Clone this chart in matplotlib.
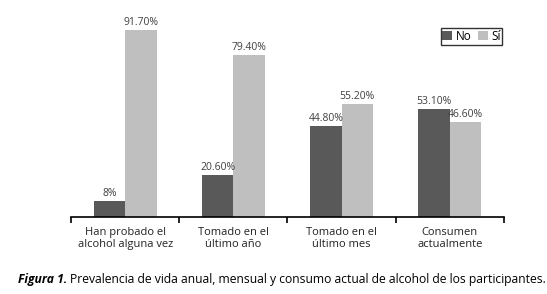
import matplotlib
matplotlib.use("Agg")
import matplotlib.pyplot as plt
import numpy as np

categories = ["Han probado el\nalcohol alguna vez", "Tomado en el\núltimo año",
              "Tomado en el\núltimo mes", "Consumen\nactualmente"]
no_values = [8.0, 20.6, 44.8, 53.1]
si_values = [91.7, 79.4, 55.2, 46.6]
no_labels = ["8%", "20.60%", "44.80%", "53.10%"]
si_labels = ["91.70%", "79.40%", "55.20%", "46.60%"]

plt.rcParams['font.family'] = ['Open Sans', 'DejaVu Sans']

fig = plt.figure(figsize=(5.47, 2.94), dpi=100)
ax = fig.add_axes([0.13, 0.262, 0.791, 0.694])

x = np.arange(len(categories))
w = 0.29
bars_no = ax.bar(x - w / 2, no_values, w, color="#595959", label="No")
bars_si = ax.bar(x + w / 2, si_values, w, color="#bfbfbf", label="Sí")

for b, lab in zip(bars_no, no_labels):
    ax.text(b.get_x() + b.get_width() / 2, b.get_height() + 1, lab,
            ha="center", va="bottom", fontsize=7.5, color="#404040")
for b, lab in zip(bars_si, si_labels):
    ax.text(b.get_x() + b.get_width() / 2, b.get_height() + 1, lab,
            ha="center", va="bottom", fontsize=7.5, color="#404040")

ax.set_xlim(-0.5, len(categories) - 0.5)
ax.set_ylim(0, 100)
ax.set_yticks([])
for s in ["top", "right", "left"]:
    ax.spines[s].set_visible(False)
ax.spines["bottom"].set_linewidth(1.2)

# category boundary ticks
ax.set_xticks(np.arange(len(categories) + 1) - 0.5)
ax.set_xticklabels([])
ax.tick_params(axis="x", length=4, width=1.2, direction="out")
ax.set_xticks(x, minor=True)
ax.set_xticklabels(categories, minor=True, fontsize=8, color="#222222")
ax.tick_params(axis="x", which="minor", length=0, pad=7)

leg = ax.legend(loc="upper right", bbox_to_anchor=(0.997, 0.925), ncol=2,
                fontsize=8.5, frameon=True, fancybox=False, edgecolor="black",
                handlelength=0.8, handleheight=0.8, handletextpad=0.3,
                columnspacing=0.6, borderpad=0.15, borderaxespad=0)
leg.get_frame().set_linewidth(1.0)

# caption
t1 = fig.text(18 / 547, 1 - 279 / 294, "Figura 1.", fontsize=8.75,
              fontweight="bold", fontstyle="italic", va="center", ha="left")
fig.canvas.draw()
bb = t1.get_window_extent()
fig.text((bb.x1 + 3) / fig.bbox.width, 1 - 279 / 294,
         "Prevalencia de vida anual, mensual y consumo actual de alcohol de los participantes.",
         fontsize=8.75, va="center", ha="left")

fig.savefig("out.png", dpi=100)
